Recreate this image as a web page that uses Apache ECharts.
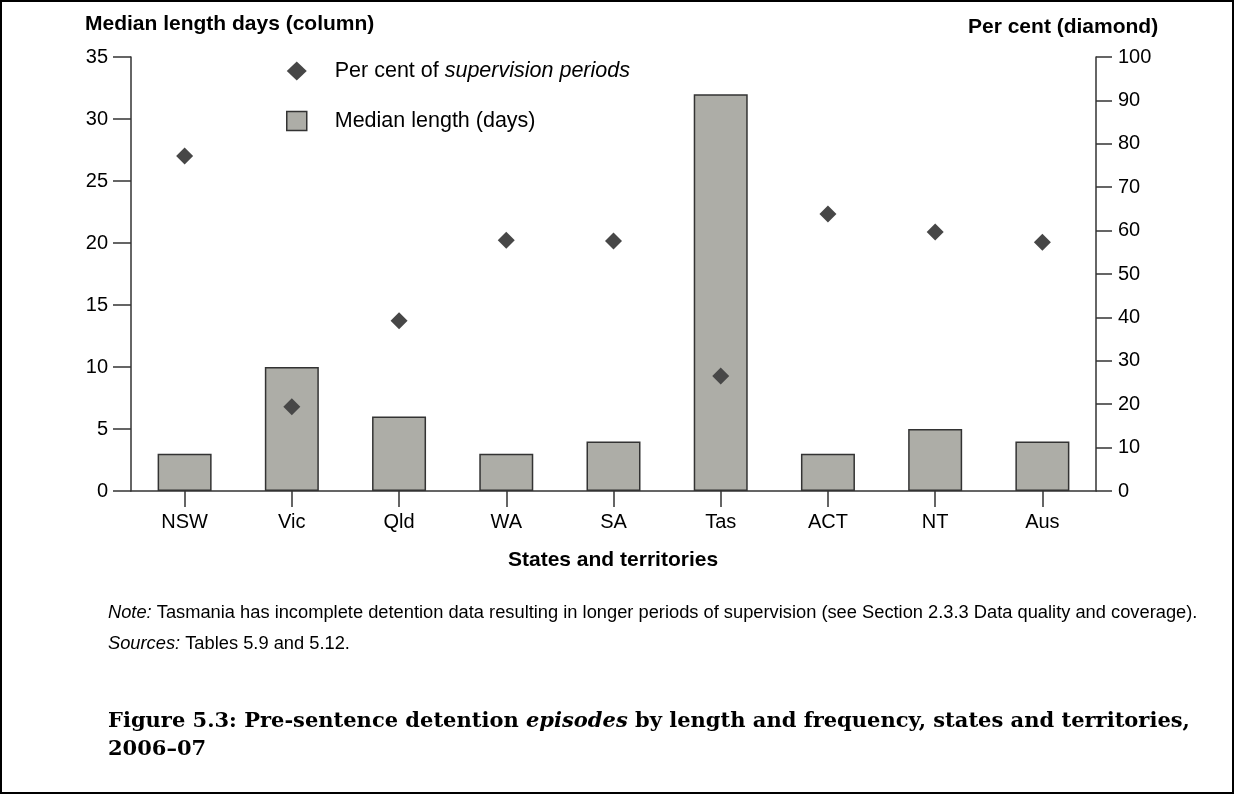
<!DOCTYPE html>
<html>
<head>
<meta charset="utf-8">
<script src="https://cdn.jsdelivr.net/npm/echarts@6/dist/echarts.min.js"></script>
<style>
html,body{margin:0;padding:0;background:#fff;}
#chart{width:1234px;height:794px;}
</style>
</head>
<body>
<div id="chart"></div>
<script>
var categories = ['NSW','Vic','Qld','WA','SA','Tas','ACT','NT','Aus'];
var medianDays = [3,10,6,3,4,32,3,5,4];
var perCent = [77.2,19.4,39.2,57.8,57.6,26.5,63.8,59.7,57.3];

var AX = '#333333';
var SANS = '"Liberation Sans", Arial, sans-serif';
var SERIF = '"DejaVu Serif", "Liberation Serif", serif';

var chart = echarts.init(document.getElementById('chart'), null, {renderer:'canvas'});
chart.setOption({
  backgroundColor:'#ffffff',
  animation:false,
  title:[
    {text:'Median length days (column)', left:85, top:14, padding:0,
     textStyle:{fontFamily:SANS, fontWeight:'bold', fontSize:21, color:'#000'}},
    {text:'Per cent (diamond)', left:968, top:17, padding:0,
     textStyle:{fontFamily:SANS, fontWeight:'bold', fontSize:21, color:'#000'}},
    {text:'States and territories', left:508, top:550, padding:0,
     textStyle:{fontFamily:SANS, fontWeight:'bold', fontSize:21, color:'#000'}},
    {text:'{i|Note:}{n| Tasmania has incomplete detention data resulting in longer periods of supervision (see Section 2.3.3 Data quality and coverage).}',
     left:108, top:604, padding:0,
     textStyle:{fontWeight:'normal', rich:{
       i:{fontFamily:SANS, fontStyle:'italic', fontWeight:'normal', fontSize:18.3, color:'#000'},
       n:{fontFamily:SANS, fontWeight:'normal', fontSize:18.3, color:'#000'}}}},
    {text:'{i|Sources:}{n| Tables 5.9 and 5.12.}',
     left:108, top:635, padding:0,
     textStyle:{fontWeight:'normal', rich:{
       i:{fontFamily:SANS, fontStyle:'italic', fontWeight:'normal', fontSize:18.3, color:'#000'},
       n:{fontFamily:SANS, fontWeight:'normal', fontSize:18.3, color:'#000'}}}},
    {text:'{b|Figure 5.3: Pre-sentence detention }{bi|episodes}{b| by length and frequency, states and territories,}\n{b|2006\u201307}',
     left:108, top:708, padding:0,
     textStyle:{rich:{
       b:{fontFamily:SERIF, fontWeight:'bold', fontSize:21, color:'#000', lineHeight:28},
       bi:{fontFamily:SERIF, fontWeight:'bold', fontStyle:'italic', fontSize:21, color:'#000', lineHeight:28}}}}
  ],
  legend:{
    orient:'vertical', left:286, top:60, itemGap:28, padding:0,
    itemWidth:20, itemHeight:19,
    data:[
      {name:'Per cent of supervision periods', icon:'diamond', itemStyle:{color:'#474747', borderWidth:0, opacity:1}},
      {name:'Median length (days)', icon:'rect', itemStyle:{color:'#adada7', borderColor:'#333', borderWidth:1.5}}
    ],
    formatter:function(name){
      if(name==='Per cent of supervision periods') return '{n|Per cent of }{i|supervision periods}';
      return '{n|Median length (days)}';
    },
    textStyle:{rich:{
      n:{fontFamily:SANS, fontSize:21.5, color:'#000', padding:[0,0,0,23], lineHeight:20},
      i:{fontFamily:SANS, fontSize:21.5, fontStyle:'italic', color:'#000', lineHeight:20}}}
  },
  graphic:[{type:'rect', shape:{x:1,y:1,width:1232,height:792}, style:{fill:'none', stroke:'#000', lineWidth:2}, silent:true}],
  grid:{left:131, right:138, top:57, bottom:303, containLabel:false},
  xAxis:{
    type:'category', data:categories,
    axisLine:{show:true, lineStyle:{color:AX, width:1.5}},
    axisTick:{show:true, alignWithLabel:true, length:16, lineStyle:{color:AX, width:1.5}},
    axisLabel:{fontFamily:SANS, fontSize:20, color:'#000', margin:21},
    splitLine:{show:false}
  },
  yAxis:[
    {type:'value', min:0, max:35, interval:5, position:'left',
     axisLine:{show:true, lineStyle:{color:AX, width:1.5}},
     axisTick:{show:true, length:18, lineStyle:{color:AX, width:1.5}},
     axisLabel:{fontFamily:SANS, fontSize:20, color:'#000', margin:23},
     splitLine:{show:false}},
    {type:'value', min:0, max:100, interval:10, position:'right',
     axisLine:{show:true, lineStyle:{color:AX, width:1.5}},
     axisTick:{show:true, length:16, lineStyle:{color:AX, width:1.5}},
     axisLabel:{fontFamily:SANS, fontSize:20, color:'#000', margin:22},
     splitLine:{show:false}}
  ],
  series:[
    {name:'Median length (days)', type:'bar', yAxisIndex:0, data:medianDays, barWidth:54,
     itemStyle:{color:'#adada7', borderColor:'#333', borderWidth:1.5}, z:2},
    {name:'Per cent of supervision periods', type:'scatter', yAxisIndex:1, data:perCent,
     symbol:'diamond', symbolSize:17, itemStyle:{color:'#474747', opacity:1}, z:5}
  ]
});
</script>
</body>
</html>
